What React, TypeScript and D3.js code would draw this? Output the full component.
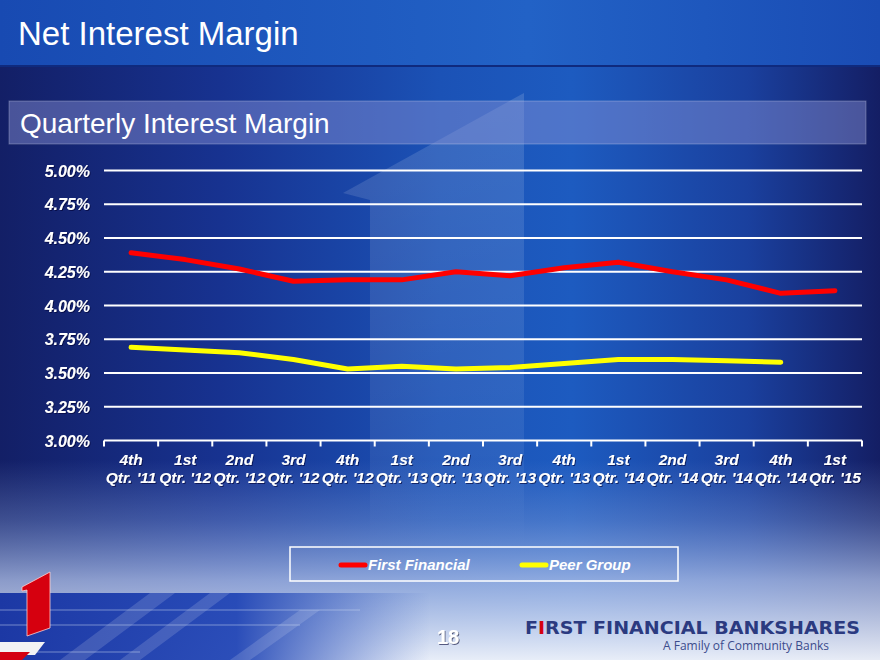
import { useEffect, useRef } from "react";
import * as d3 from "d3";

const quarterLabels = ["4th", "1st", "2nd", "3rd", "4th", "1st", "2nd", "3rd", "4th", "1st", "2nd", "3rd", "4th", "1st"];
const yearLabels = ["Qtr. '11", "Qtr. '12", "Qtr. '12", "Qtr. '12", "Qtr. '12", "Qtr. '13", "Qtr. '13", "Qtr. '13", "Qtr. '13", "Qtr. '14", "Qtr. '14", "Qtr. '14", "Qtr. '14", "Qtr. '15"];
const firstFinancial = [4.39, 4.34, 4.27, 4.18, 4.19, 4.19, 4.25, 4.22, 4.28, 4.32, 4.25, 4.19, 4.09, 4.11];
const peerGroup: (number | null)[] = [3.69, 3.67, 3.65, 3.6, 3.53, 3.55, 3.53, 3.54, 3.57, 3.6, 3.6, 3.59, 3.58, null];
const yTicks = [3.0, 3.25, 3.5, 3.75, 4.0, 4.25, 4.5, 4.75, 5.0];

const FONT = "'Liberation Sans', Arial, Helvetica, sans-serif";
const RED = "#ff0000";
const YELLOW = "#ffff00";

export default function App() {
  const gRef = useRef<SVGGElement>(null);

  useEffect(() => {
    const gEl = gRef.current;
    if (!gEl) return;
    const g = d3.select(gEl);
    g.selectAll("*").remove();

    const categories = quarterLabels.map((q, i) => `${q} ${yearLabels[i]}`);
    const x = d3.scaleBand<string>().domain(categories).range([104, 862]).padding(0);
    const y = d3.scaleLinear().domain([3, 5]).range([440.5, 170.5]);
    const cx = (i: number) => (x(categories[i]) as number) + x.bandwidth() / 2;

    // gridlines
    g.selectAll("line.grid")
      .data(yTicks.filter((t) => t > 3))
      .join("line")
      .attr("class", "grid")
      .attr("x1", 104)
      .attr("x2", 862)
      .attr("y1", (d) => y(d))
      .attr("y2", (d) => y(d))
      .attr("stroke", "#ffffff")
      .attr("stroke-width", 2);

    // x axis line + ticks
    g.append("line")
      .attr("x1", 104)
      .attr("x2", 862)
      .attr("y1", y(3))
      .attr("y2", y(3))
      .attr("stroke", "#ffffff")
      .attr("stroke-width", 2);
    const edges = categories.map((c) => x(c) as number).concat([862]);
    g.selectAll("line.tick")
      .data(edges)
      .join("line")
      .attr("class", "tick")
      .attr("x1", (d) => d)
      .attr("x2", (d) => d)
      .attr("y1", y(3))
      .attr("y2", y(3) + 6)
      .attr("stroke", "#ffffff")
      .attr("stroke-width", 2);

    // y labels
    g.selectAll("text.ylab")
      .data(yTicks)
      .join("text")
      .attr("class", "ylab")
      .attr("x", 90)
      .attr("y", (d) => y(d) + 6)
      .attr("text-anchor", "end")
      .attr("font-family", FONT)
      .attr("font-size", 16)
      .attr("font-weight", 700)
      .attr("font-style", "italic")
      .attr("fill", "#ffffff")
      .attr("filter", "url(#shadow)")
      .text((d) => d3.format(".2f")(d) + "%");

    // x labels
    const xl = g
      .selectAll("g.xlab")
      .data(categories)
      .join("g")
      .attr("class", "xlab")
      .attr("transform", (_d, i) => `translate(${cx(i)},0)`)
      .attr("font-family", FONT)
      .attr("font-size", 15.5)
      .attr("font-weight", 700)
      .attr("font-style", "italic")
      .attr("fill", "#ffffff")
      .attr("text-anchor", "middle")
      .attr("filter", "url(#shadow)");
    xl.append("text")
      .attr("y", 465)
      .text((_d, i) => quarterLabels[i]);
    xl.append("text")
      .attr("y", 483)
      .text((_d, i) => yearLabels[i]);

    const line = d3
      .line<number | null>()
      .defined((d) => d !== null)
      .x((_d, i) => cx(i))
      .y((d) => y(d as number));

    g.append("path")
      .attr("d", line(peerGroup))
      .attr("fill", "none")
      .attr("stroke", YELLOW)
      .attr("stroke-width", 5)
      .attr("stroke-linecap", "round")
      .attr("stroke-linejoin", "round");
    g.append("path")
      .attr("d", line(firstFinancial))
      .attr("fill", "none")
      .attr("stroke", RED)
      .attr("stroke-width", 5)
      .attr("stroke-linecap", "round")
      .attr("stroke-linejoin", "round");

    // legend
    const legend = g.append("g");
    legend
      .append("rect")
      .attr("x", 290)
      .attr("y", 547)
      .attr("width", 388)
      .attr("height", 34)
      .attr("fill", "none")
      .attr("stroke", "#ffffff")
      .attr("stroke-width", 1.5);
    const items = [
      { label: "First Financial", color: RED, x: 339 },
      { label: "Peer Group", color: YELLOW, x: 520 },
    ];
    const li = legend.selectAll("g.item").data(items).join("g").attr("class", "item");
    li.append("line")
      .attr("x1", (d) => d.x + 2)
      .attr("x2", (d) => d.x + 26)
      .attr("y1", 565)
      .attr("y2", 565)
      .attr("stroke", (d) => d.color)
      .attr("stroke-width", 5)
      .attr("stroke-linecap", "round");
    li.append("text")
      .attr("x", (d) => d.x + 29)
      .attr("y", 570)
      .attr("font-family", FONT)
      .attr("font-size", 15)
      .attr("font-weight", 700)
      .attr("font-style", "italic")
      .attr("fill", "#ffffff")
      .text((d) => d.label);
  }, []);

  return (
    <svg
      width={880}
      height={660}
      viewBox="0 0 880 660"
      style={{ position: "absolute", left: 0, top: 0, display: "block" }}
    >
      <defs>
        <linearGradient id="bgH" x1="0" x2="1" y1="0" y2="0">
          <stop offset="0" stopColor="#131f66" />
          <stop offset="0.25" stopColor="#173290" />
          <stop offset="0.5" stopColor="#1b52b6" />
          <stop offset="0.65" stopColor="#1d5bc0" />
          <stop offset="0.85" stopColor="#1a409e" />
          <stop offset="1" stopColor="#141e64" />
        </linearGradient>
        <linearGradient id="topBar" x1="0" x2="1" y1="0" y2="0">
          <stop offset="0" stopColor="#184ab2" />
          <stop offset="0.6" stopColor="#2262c6" />
          <stop offset="1" stopColor="#1a4cb4" />
        </linearGradient>
        <linearGradient id="bottomLight" x1="0" x2="0" y1="0" y2="1">
          <stop offset="0" stopColor="#8aa4dc" stopOpacity="0" />
          <stop offset="0.3" stopColor="#8ea8de" stopOpacity="0.35" />
          <stop offset="0.6" stopColor="#b3c4ea" stopOpacity="0.75" />
          <stop offset="1" stopColor="#eef2fa" stopOpacity="0.97" />
        </linearGradient>
        <linearGradient id="darkBand" x1="0" x2="1" y1="0" y2="0">
          <stop offset="0" stopColor="#1c38a4" stopOpacity="1" />
          <stop offset="0.55" stopColor="#2246b6" stopOpacity="0.95" />
          <stop offset="1" stopColor="#3a62c4" stopOpacity="0" />
        </linearGradient>
        <linearGradient id="bigOne" x1="0" x2="0" y1="0" y2="1">
          <stop offset="0" stopColor="#ffffff" stopOpacity="0.14" />
          <stop offset="0.8" stopColor="#ffffff" stopOpacity="0.07" />
          <stop offset="1" stopColor="#ffffff" stopOpacity="0" />
        </linearGradient>
        <filter id="shadow" x="-10%" y="-20%" width="130%" height="150%">
          <feDropShadow dx="1" dy="1" stdDeviation="0.6" floodColor="#000030" floodOpacity="0.6" />
        </filter>
      </defs>

      <rect x={0} y={0} width={880} height={660} fill="url(#bgH)" />
      <polygon points="524,93 343,193 370,200 370,545 524,545" fill="url(#bigOne)" />
      <rect x={0} y={460} width={880} height={200} fill="url(#bottomLight)" />
      <rect x={0} y={593} width={430} height={67} fill="url(#darkBand)" />
      <g fill="#ffffff" opacity={0.14}>
        <polygon points="60,660 150,593 175,593 85,660" />
        <polygon points="120,660 210,593 230,593 140,660" />
        <polygon points="230,660 300,610 320,610 250,660" />
      </g>
      <g stroke="#c8d6f0" strokeWidth={1} opacity={0.5}>
        <line x1={0} y1={610} x2={360} y2={610} />
        <line x1={0} y1={625} x2={300} y2={625} />
        <line x1={0} y1={652} x2={140} y2={652} />
      </g>
      <polygon points="0,642 45,642 35,655 0,655" fill="#f2f2f4" />
      <polygon points="0,652 30,652 22,660 0,660" fill="#d40012" />
      <polygon
        points="50,572 22,587 22,591 27,590 27,636 50,628"
        fill="#d6000f"
        stroke="#ffd0d0"
        strokeWidth={0.8}
      />

      <rect x={0} y={0} width={880} height={65} fill="url(#topBar)" />
      <rect x={0} y={65} width={880} height={2} fill="#0f2a7e" />
      <text x={18} y={45} fontFamily={FONT} fontSize={33} fill="#ffffff">
        Net Interest Margin
      </text>

      <rect
        x={9}
        y={101}
        width={857}
        height={43}
        fill="#8c95d8"
        fillOpacity={0.45}
        stroke="#ffffff"
        strokeOpacity={0.25}
      />
      <text x={20} y={133} fontFamily={FONT} fontSize={28} fill="#ffffff">
        Quarterly Interest Margin
      </text>

      <g ref={gRef} />

      <text
        x={448}
        y={644}
        textAnchor="middle"
        fontFamily={FONT}
        fontSize={20}
        fontWeight={700}
        fill="#ffffff"
        filter="url(#shadow)"
      >
        18
      </text>
      <text
        x={525}
        y={634}
        fontFamily="'DejaVu Sans', sans-serif"
        fontSize={18}
        fontWeight={700}
        fill="#2b3a80"
        textLength={335}
        lengthAdjust="spacingAndGlyphs"
      >
        F<tspan fill="#d6000f">I</tspan>RST FINANCIAL BANKSHARES
      </text>
      <text
        x={663}
        y={650}
        fontFamily="'Open Sans', sans-serif"
        fontSize={12.5}
        fill="#3c4c8c"
        textLength={166}
        lengthAdjust="spacingAndGlyphs"
      >
        A Family of Community Banks
      </text>
    </svg>
  );
}
